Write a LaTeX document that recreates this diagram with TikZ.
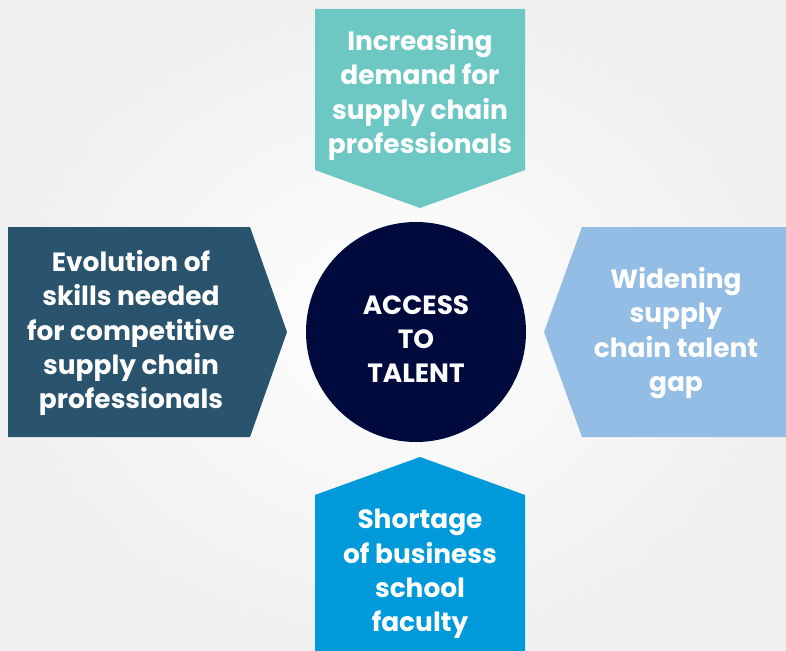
\documentclass[tikz,border=0pt]{standalone}
\usepackage{fontspec}
\setmainfont{Poppins}
\usetikzlibrary{calc}
\definecolor{teal1}{HTML}{6DC8C3}
\definecolor{navy1}{HTML}{2A536E}
\definecolor{sky1}{HTML}{93BDE4}
\definecolor{blue1}{HTML}{009ADA}
\definecolor{ink1}{HTML}{000A3C}
\tikzset{txt/.style={text=white,align=center,font=\fontsize{26.5}{34.5}\selectfont\bfseries}}
\begin{document}
\begin{tikzpicture}[x=1bp,y=-1bp]
\useasboundingbox (0,0) rectangle (786,651);
\shade[inner color=white,outer color=gray!12] (0,0) rectangle (786,651);
% top
\fill[teal1] (315,9)--(525,9)--(525,170)--(420,208)--(315,170)--cycle;
% left
\fill[navy1] (8,227)--(250,227)--(287,332)--(250,437)--(8,437)--cycle;
% right
\fill[sky1] (786,227)--(582,227)--(544,332)--(582,437)--(786,437)--cycle;
% bottom
\fill[blue1] (315,651)--(315,495)--(420,457)--(525,495)--(525,651)--cycle;
\fill[ink1] (416,332) circle (110);
\node[txt] (demand) at (420,95) {Increasing\\demand for\\supply chain\\professionals};
\node[txt] (skills) at (131,333) {Evolution of\\skills needed\\for competitive\\supply chain\\professionals};
\node[txt] (gap) at (676,333) {Widening\\supply\\chain talent\\gap};
\node[txt] (faculty) at (420,574) {Shortage\\of business\\school\\faculty};
\node[txt] (access) at (416,339) {ACCESS\\TO\\TALENT};
\end{tikzpicture}
\end{document}
